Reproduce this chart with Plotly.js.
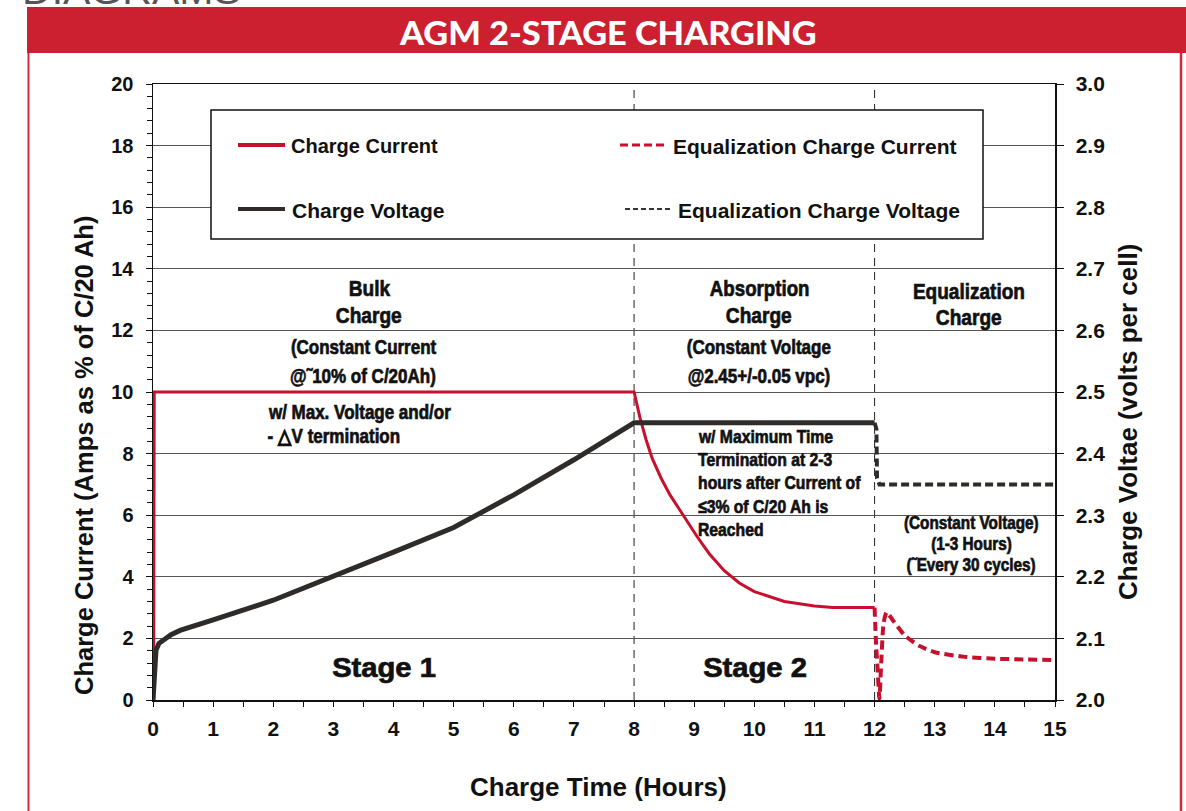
<!DOCTYPE html>
<html>
<head>
<meta charset="utf-8">
<script src="https://cdn.plot.ly/plotly-3.0.1.min.js"></script>
<style>html,body{margin:0;padding:0;background:#fff;}#chart{width:1186px;height:811px;}</style>
</head>
<body>
<div id="chart"></div>
<script>
// ---- data ----
const chargeCurrentHours = [0.01, 0.02, 8.0, 8.1,  8.2,  8.3,  8.45, 8.6,  8.75, 8.9,  9.05, 9.25, 9.5, 9.75, 10.0, 10.5, 11.0, 11.3, 12.0];
const chargeCurrentPct   = [0,    10,   10,  9.15, 8.45, 7.85, 7.2,  6.65, 6.2,  5.75, 5.3,  4.75, 4.2, 3.8,  3.52, 3.2,  3.05, 3.0,  3.0];
const eqCurrentHours = [12.0, 12.02, 12.05, 12.08, 12.11, 12.15, 12.2, 12.3, 12.5, 12.75, 13.0, 13.5, 14.0, 15.0];
const eqCurrentPct   = [3.0,  2.0,   1.0,   0.05,  1.2,   2.5,   2.85, 2.6,  2.1,  1.75,  1.55, 1.4,  1.34, 1.3];
const chargeVoltHours = [0,   0.05,  0.1,   0.2,  0.3,   0.45,  0.62,  1.0,  2.0,   3.0,  4.0,  5.0,  6.0,   7.0,  8.0,  12.0];
const chargeVoltVpc   = [2.0, 2.081, 2.092, 2.1,  2.106, 2.113, 2.118, 2.13, 2.162, 2.2,  2.24, 2.28, 2.333, 2.39, 2.45, 2.45];
const eqVoltHours = [12.0, 12.03, 12.04, 12.08, 15.0];
const eqVoltVpc   = [2.45, 2.44,  2.36,  2.35,  2.35];
const stageBoundaries = [8, 12];
const xTickVals = [0,1,2,3,4,5,6,7,8,9,10,11,12,13,14,15];
const yLeftTicks = [0,2,4,6,8,10,12,14,16,18,20];
const yRightTicks = [2.0,2.1,2.2,2.3,2.4,2.5,2.6,2.7,2.8,2.9,3.0];

// ---- layout helpers (pixel -> paper) ----
const L=153, R=1055, T=84, B=700;
const px = x => (x-L)/(R-L);
const py = y => (B-y)/(B-T);

const RED = '#c8102e';
const DARK = '#2e2b28';
const ARIAL = '"Liberation Sans", Arial, sans-serif';

const traces = [
  {x: chargeCurrentHours, y: chargeCurrentPct, type:'scatter', mode:'lines', line:{color:RED, width:3}, yaxis:'y', showlegend:false, hoverinfo:'skip'},
  {x: eqCurrentHours, y: eqCurrentPct, type:'scatter', mode:'lines', line:{color:RED, width:4, dash:'9px,5px', shape:'spline', smoothing:0.6}, yaxis:'y', showlegend:false, hoverinfo:'skip'},
  {x: chargeVoltHours, y: chargeVoltVpc, type:'scatter', mode:'lines', line:{color:DARK, width:5}, yaxis:'y2', showlegend:false, hoverinfo:'skip'},
  {x: eqVoltHours, y: eqVoltVpc, type:'scatter', mode:'lines', line:{color:DARK, width:4, dash:'8px,4px'}, yaxis:'y2', showlegend:false, hoverinfo:'skip'}
];

const annotations = [];
const scales = [];
function add(text, x, y, size, opts={}, sx=1, heavy=false) {
  const a = Object.assign({text, x:px(x), y:py(y), xref:'paper', yref:'paper', showarrow:false,
    xanchor:'center', yanchor:'middle', font:{family:ARIAL, size, color:'#111', weight:700}}, opts);
  annotations.push(a); scales.push({sx, heavy, origin: a.xanchor === 'left' ? '0% 50%' : '50% 50%'});
}
const CS = 0.85; // condensed look

add('AGM 2-STAGE CHARGING', 608, 32, 33, {font:{family:'Lato, "Open Sans", sans-serif', size:33, color:'#ffffff', weight:900}}, 1.04);
add('DIAGRAMS', 20, 14, 38, {xanchor:'left', yanchor:'bottom', font:{family:ARIAL, size:38, color:'#555'}}, 1.08);
add('Charge Current', 289, 146, 20, {xanchor:'left'});
add('Charge Voltage', 290, 210, 21, {xanchor:'left'});
add('Equalization Charge Current', 671, 146, 21, {xanchor:'left'});
add('Equalization Charge Voltage', 676, 210, 21, {xanchor:'left'});
add('Bulk', 369, 288, 22.5, {}, CS, true); add('Charge', 369, 315, 22.5, {}, CS, true);
add('(Constant Current', 363, 347, 20, {}, CS, true); add('@˜10% of C/20Ah)', 363, 376, 20, {}, CS, true);
add('w/ Max. Voltage and/or', 266, 412, 20, {xanchor:'left'}, CS, true);
add('- △V termination', 266, 436, 20, {xanchor:'left'}, CS, true);
add('Absorption', 759, 288, 22, {}, CS, true); add('Charge', 759, 315, 22.5, {}, CS, true);
add('(Constant Voltage', 759, 347, 20, {}, CS, true); add('@2.45+/-0.05 vpc)', 759, 376, 20, {}, CS, true);
add('w/ Maximum Time', 696, 436, 18.5, {xanchor:'left'}, CS, true);
add('Termination at 2-3', 696, 459, 18.5, {xanchor:'left'}, CS, true);
add('hours after Current of', 696, 482, 18.5, {xanchor:'left'}, CS, true);
add('≤3% of C/20 Ah is', 696, 506, 18.5, {xanchor:'left'}, CS, true);
add('Reached', 696, 529, 18.5, {xanchor:'left'}, CS, true);
add('Equalization', 969, 291, 22.4, {}, CS, true); add('Charge', 969, 317, 22.5, {}, CS, true);
add('(Constant Voltage)', 971, 523, 18, {}, CS, true); add('(1-3 Hours)', 971, 544, 18, {}, CS, true); add('(˜Every 30 cycles)', 971, 565, 18, {}, CS, true);
add('Stage 1', 384, 668, 27, {}, 1.08, true);
add('Stage 2', 755, 668, 27, {}, 1.08, true);
add('Charge Current (Amps as % of C/20 Ah)', 84, 456, 25.5, {textangle:-90});
add('Charge Voltae (volts per cell)', 1128, 422, 26, {textangle:-90});
add('Charge Time (Hours)', 598, 787, 26);

const shapes = [
  {type:'rect', xref:'paper', yref:'paper', x0:px(27), x1:px(1190), y0:py(53), y1:py(7), fillcolor:'#cc1f30', line:{width:0}, layer:'below'},
  {type:'line', xref:'paper', yref:'paper', x0:px(28.5), x1:px(28.5), y0:py(53), y1:py(815), line:{color:'#d4283c', width:2}},
  {type:'line', xref:'paper', yref:'paper', x0:px(1181), x1:px(1181), y0:py(53), y1:py(815), line:{color:'#d4283c', width:2.5}},
  ...stageBoundaries.map(b => ({type:'line', xref:'x', yref:'paper', x0:b, x1:b, y0:0, y1:1, line:{color:'#222', width:1, dash:'8px,6px'}, layer:'below'})),
  {type:'rect', xref:'paper', yref:'paper', x0:px(211), x1:px(983), y0:py(239), y1:py(110), fillcolor:'#ffffff', line:{color:'#111', width:1.5}, layer:'above'},
  {type:'line', xref:'paper', yref:'paper', x0:px(238), x1:px(285), y0:py(145), y1:py(145), line:{color:RED, width:4}},
  {type:'line', xref:'paper', yref:'paper', x0:px(238), x1:px(285), y0:py(209), y1:py(209), line:{color:DARK, width:4}},
  {type:'line', xref:'paper', yref:'paper', x0:px(620), x1:px(667), y0:py(145), y1:py(145), line:{color:RED, width:3, dash:'8px,4px'}},
  {type:'line', xref:'paper', yref:'paper', x0:px(625), x1:px(672), y0:py(209), y1:py(209), line:{color:'#333', width:2, dash:'5px,3px'}}
];

const tickFont = s => ({family:ARIAL, size:s, color:'#111', weight:700});
const layout = {
  width:1186, height:811,
  margin:{l:L, r:1186-R, t:T, b:811-B, pad:0},
  paper_bgcolor:'#ffffff', plot_bgcolor:'#ffffff',
  showlegend:false,
  xaxis:{range:[0,15], tickvals:xTickVals, ticks:'outside', ticklen:5, tickcolor:'#111', showgrid:false, zeroline:false,
         showline:true, linecolor:'#111', linewidth:1.5, mirror:true, ticklabelstandoff:4,
         minor:{dtick:0.5, ticks:'outside', ticklen:5, tickcolor:'#111'},
         tickfont:tickFont(21)},
  yaxis:{range:[0,20], tickvals:yLeftTicks, ticks:'outside', ticklen:6, tickcolor:'#111', showgrid:true, gridcolor:'#555', gridwidth:1, zeroline:false,
         showline:true, linecolor:'#111', linewidth:1.5, ticklabelstandoff:8,
         minor:{dtick:0.4, ticks:'outside', ticklen:5, tickcolor:'#111', showgrid:false},
         tickfont:tickFont(20)},
  yaxis2:{range:[2.0,3.0], overlaying:'y', side:'right', tickvals:yRightTicks, tickformat:'.1f', ticks:'outside', ticklen:7, tickcolor:'#111',
          showgrid:false, zeroline:false, showline:true, linecolor:'#111', linewidth:1.5, ticklabelstandoff:8,
          tickfont:tickFont(21)},
  shapes, annotations
};

Plotly.newPlot('chart', traces, layout, {staticPlot:true, displayModeBar:false}).then(gd => {
  gd.querySelectorAll('g.annotation').forEach(g => {
    const i = +g.getAttribute('data-index');
    const s = scales[i];
    if (!s) return;
    const t = g.querySelector('text.annotation-text');
    if (!t) return;
    if (s.heavy) {
      t.style.stroke = '#111';
      t.style.strokeWidth = '0.7px';
      t.style.paintOrder = 'stroke';
    }
    if (s.sx !== 1) {
      t.style.transformBox = 'fill-box';
      t.style.transformOrigin = s.origin;
      t.style.transform = 'scaleX(' + s.sx + ')';
    }
  });
});
</script>
</body>
</html>
